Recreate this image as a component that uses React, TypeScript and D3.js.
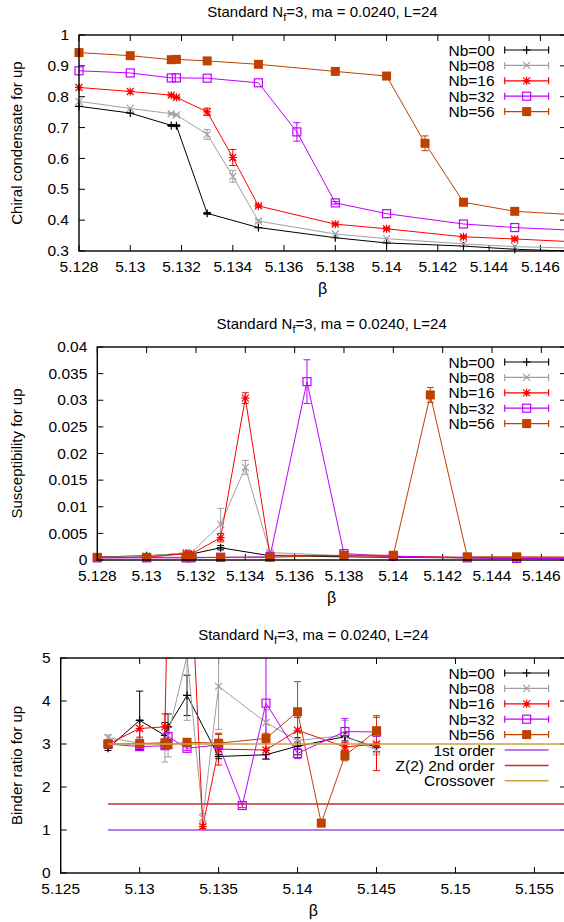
import React, { useEffect } from 'react';
import * as d3 from 'd3';

// ---- series shared by the three panels ----
const seriesLabels = ['Nb=00', 'Nb=08', 'Nb=16', 'Nb=32', 'Nb=56'];
const seriesColors = ['#000000', '#a0a0a0', '#ff0000', '#c000ff', '#c04000'];
const seriesMarkers = ['plus', 'cross', 'star', 'square', 'filled'];

// ---- chiral condensate ----
const condBeta = [
  [5.128, 5.13, 5.1316, 5.1318, 5.133, 5.135, 5.138, 5.14, 5.143, 5.145, 5.15],
  [5.128, 5.13, 5.1316, 5.1318, 5.133, 5.134, 5.135, 5.138, 5.14, 5.143, 5.145, 5.15],
  [5.128, 5.13, 5.1316, 5.1318, 5.133, 5.134, 5.135, 5.138, 5.14, 5.143, 5.145, 5.15],
  [5.128, 5.13, 5.1316, 5.1318, 5.133, 5.135, 5.1365, 5.138, 5.14, 5.143, 5.145, 5.15],
  [5.128, 5.13, 5.1316, 5.1318, 5.133, 5.135, 5.138, 5.14, 5.1415, 5.143, 5.145, 5.15],
];
const condValue = [
  [0.769, 0.747, 0.707, 0.706, 0.422, 0.376, 0.343, 0.326, 0.316, 0.3055, 0.292],
  [0.785, 0.762, 0.745, 0.741, 0.678, 0.542, 0.397, 0.355, 0.34, 0.323, 0.314, 0.304],
  [0.83, 0.817, 0.805, 0.798, 0.751, 0.603, 0.446, 0.387, 0.372, 0.346, 0.339, 0.319],
  [0.884, 0.877, 0.861, 0.861, 0.86, 0.845, 0.686, 0.456, 0.421, 0.3875, 0.376, 0.357],
  [0.943, 0.933, 0.92, 0.921, 0.916, 0.905, 0.882, 0.867, 0.649, 0.458, 0.4286, 0.405],
];
const condError = [
  [0, 0, 0.003, 0.003, 0.003, 0, 0, 0, 0, 0, 0],
  [0, 0, 0.003, 0.003, 0.016, 0.019, 0.004, 0, 0, 0, 0, 0],
  [0, 0, 0.003, 0.004, 0.012, 0.026, 0.004, 0.004, 0.004, 0.004, 0.004, 0],
  [0, 0, 0, 0, 0, 0, 0.03, 0.004, 0, 0, 0, 0],
  [0, 0, 0, 0, 0, 0, 0, 0, 0.024, 0, 0, 0],
];
const condXTicks = [5.128, 5.13, 5.132, 5.134, 5.136, 5.138, 5.14, 5.142, 5.144, 5.146];
const condYTicks = [0.3, 0.4, 0.5, 0.6, 0.7, 0.8, 0.9, 1];

// ---- susceptibility ----
const suscBeta = condBeta;
const suscValue = [
  [0.00056, 0.0008, 0.0012, 0.0011, 0.0023, 0.0008, 0.0006, 0.0005, 0.0004, 0.0003, 0.0003],
  [0.0005, 0.0007, 0.0014, 0.0013, 0.0067, 0.0174, 0.0014, 0.0008, 0.0006, 0.0005, 0.0004, 0.0004],
  [0.0004, 0.0005, 0.0012, 0.0011, 0.0042, 0.0304, 0.0009, 0.0008, 0.0007, 0.0005, 0.0004, 0.0004],
  [0.0004, 0.0004, 0.0004, 0.0004, 0.0005, 0.0006, 0.0335, 0.0012, 0.0007, 0.0004, 0.0003, 0.0003],
  [0.0005, 0.0005, 0.0005, 0.0005, 0.0005, 0.0005, 0.0009, 0.0009, 0.031, 0.0006, 0.0006, 0.0005],
];
const suscError = [
  [0, 0, 0.0001, 0.0001, 0.0004, 0.0001, 0, 0, 0, 0, 0],
  [0, 0, 0.0002, 0.0002, 0.003, 0.0013, 0.0003, 0.0001, 0, 0, 0, 0],
  [0, 0, 0.0001, 0.0001, 0.0008, 0.001, 0.0002, 0.0001, 0, 0, 0, 0],
  [0, 0, 0, 0, 0, 0, 0.0041, 0.0002, 0, 0, 0, 0],
  [0, 0, 0, 0, 0, 0, 0, 0.0001, 0.0014, 0, 0, 0],
];
const suscYTicks = [0, 0.005, 0.01, 0.015, 0.02, 0.025, 0.03, 0.035, 0.04];

// ---- Binder ratio ----
const binderBeta = [
  [5.128, 5.13, 5.1316, 5.1318, 5.133, 5.135, 5.138, 5.14, 5.143, 5.145],
  [5.128, 5.13, 5.1316, 5.1318, 5.133, 5.134, 5.135, 5.138, 5.14, 5.143, 5.145],
  [5.128, 5.13, 5.1316, 5.1318, 5.133, 5.134, 5.135, 5.138, 5.14, 5.143, 5.145],
  [5.128, 5.13, 5.1316, 5.1318, 5.133, 5.135, 5.1365, 5.138, 5.14, 5.143, 5.145],
  [5.128, 5.13, 5.1316, 5.1318, 5.133, 5.135, 5.138, 5.14, 5.1415, 5.143, 5.145],
];
const binderValue = [
  [2.9, 3.55, 3.2, 3.4, 4.13, 2.71, 2.75, 2.95, 3.17, 2.92],
  [3.15, 3.02, 3.0, 3.2, 5.05, 1.28, 4.34, 3.5, 3.08, 3.2, 2.85],
  [3.0, 3.36, 3.4, 7.0, 8.9, 1.08, 2.88, 2.86, 3.32, 2.93, 3.0],
  [3.0, 2.94, 2.96, 3.17, 2.9, 2.98, 1.57, 3.95, 2.78, 3.29, 3.28],
  [3.0, 3.01, 3.03, 2.98, 3.04, 3.02, 3.13, 3.75, 1.16, 2.73, 3.31],
];
const binderError = [
  [0.05, 0.68, 0.3, 0.3, 0.47, 0.05, 0.1, 0.2, 0.1, 0.1],
  [0.06, 0.1, 0.42, 0.5, 1.5, 0.1, 1.0, 0.3, 0.2, 0.35, 0.1],
  [0.05, 0.2, 0.3, 2, 3, 0.05, 0.37, 0.22, 0.3, 0.1, 0.62],
  [0.03, 0.05, 0.05, 0.1, 0.05, 0.05, 0.05, 1.3, 0.12, 0.3, 0.1],
  [0.03, 0.03, 0.03, 0.03, 0.03, 0.2, 0.12, 0.7, 0.03, 0.12, 0.35],
];
const binderXTicks = [5.125, 5.13, 5.135, 5.14, 5.145, 5.15, 5.155];
const binderYTicks = [0, 1, 2, 3, 4, 5];
const refLabels = ['1st order', 'Z(2) 2nd order', 'Crossover'];
const refValues = [1, 1.604, 3];
const refColors = ['#a34ee0', '#c03232', '#cca043'];

const FONT = '"Liberation Sans", Arial, sans-serif';
const fmt = (d: number) => String(+d.toFixed(4));

function Marker({ kind, x, y, color }: { kind: string; x: number; y: number; color: string }) {
  const h = 4;
  const c = 3.5;
  const plus = `M${x - h},${y}H${x + h}M${x},${y - h}V${y + h}`;
  const cross = `M${x - c},${y - c}L${x + c},${y + c}M${x - c},${y + c}L${x + c},${y - c}`;
  if (kind === 'plus') return <path d={plus} stroke={color} strokeWidth={1.2} />;
  if (kind === 'cross') return <path d={cross} stroke={color} strokeWidth={1.2} />;
  if (kind === 'star') return <path d={plus + cross} stroke={color} strokeWidth={1.2} />;
  if (kind === 'square')
    return <rect x={x - 4} y={y - 4} width={8} height={8} fill="none" stroke={color} strokeWidth={1.2} />;
  return <rect x={x - 4.5} y={y - 4.5} width={9} height={9} fill={color} />;
}

type PanelProps = {
  id: string;
  top: number;
  bottom: number;
  left: number;
  right: number;
  xDomain: [number, number];
  yDomain: [number, number];
  xTicks: number[];
  yTicks: number[];
  yLabel: string;
  betas: number[][];
  values: number[][];
  errors: number[][];
  refs?: boolean;
};

function Panel(p: PanelProps) {
  const x = d3.scaleLinear().domain(p.xDomain).range([p.left, p.right]);
  const y = d3.scaleLinear().domain(p.yDomain).range([p.bottom, p.top]);
  const line = d3
    .line<[number, number]>()
    .x((d) => x(d[0]))
    .y((d) => y(d[1]));
  const inside = (b: number, v: number) =>
    b >= p.xDomain[0] && b <= p.xDomain[1] && v >= p.yDomain[0] && v <= p.yDomain[1];
  const midX = (p.left + p.right) / 2;
  const midY = (p.top + p.bottom) / 2;
  const legX = 494.6;
  const lx0 = 504.7;
  const lx1 = 548.6;
  const legY = (i: number) => p.top + 15 + i * 15.4;
  const tk = 6;

  return (
    <g fontFamily={FONT}>
      <defs>
        <clipPath id={`clip-${p.id}`}>
          <rect x={p.left - 10} y={p.top} width={p.right - p.left + 10} height={p.bottom - p.top} />
        </clipPath>
      </defs>
      <text x={midX} y={p.top - 18} textAnchor="middle" fontSize={15}>
        Standard N<tspan fontSize={11} dy={4}>f</tspan>
        <tspan dy={-4}>=3, ma = 0.0240, L=24</tspan>
      </text>

      {/* ticks and labels */}
      {p.xTicks.map((t) => (
        <g key={`x${t}`}>
          <line x1={x(t)} x2={x(t)} y1={p.bottom} y2={p.bottom - tk} stroke="#000" />
          <line x1={x(t)} x2={x(t)} y1={p.top} y2={p.top + tk} stroke="#000" />
          <text x={x(t)} y={p.bottom + 21} textAnchor="middle" fontSize={15.5}>
            {fmt(t)}
          </text>
        </g>
      ))}
      {p.yTicks.map((t) => (
        <g key={`y${t}`}>
          <line x1={p.left} x2={p.left + tk} y1={y(t)} y2={y(t)} stroke="#000" />
          <line x1={p.right} x2={p.right - tk} y1={y(t)} y2={y(t)} stroke="#000" />
          <text x={p.left - 10} y={y(t) + 5.2} textAnchor="end" fontSize={15.5}>
            {fmt(t)}
          </text>
        </g>
      ))}
      <text x={midX} y={p.bottom + 43} textAnchor="middle" fontSize={16}>
        β
      </text>
      <text transform={`translate(21.5,${midY}) rotate(-90)`} textAnchor="middle" fontSize={15}>
        {p.yLabel}
      </text>

      {/* data */}
      <g clipPath={`url(#clip-${p.id})`}>
        {p.betas.map((bs, s) => (
          <g key={`s${s}`}>
            <path
              d={line(bs.map((b, i) => [b, p.values[s][i]]) as [number, number][]) || ''}
              fill="none"
              stroke={seriesColors[s]}
              strokeWidth={1}
            />
            {bs.map((b, i) => {
              const e = p.errors[s][i];
              if (!e) return null;
              const v = p.values[s][i];
              const yt = y(v + e);
              const yb = y(v - e);
              const cx = x(b);
              return (
                <path
                  key={`e${i}`}
                  d={`M${cx},${yt}V${yb}M${cx - 3.5},${yt}H${cx + 3.5}M${cx - 3.5},${yb}H${cx + 3.5}`}
                  stroke={seriesColors[s]}
                  strokeWidth={1}
                  fill="none"
                />
              );
            })}
          </g>
        ))}
      </g>
      {p.betas.map((bs, s) => (
        <g key={`m${s}`}>
          {bs.map((b, i) =>
            inside(b, p.values[s][i]) ? (
              <Marker key={i} kind={seriesMarkers[s]} x={x(b)} y={y(p.values[s][i])} color={seriesColors[s]} />
            ) : null
          )}
        </g>
      ))}
      {p.refs &&
        refValues.map((v, i) => (
          <line
            key={`r${i}`}
            x1={x(5.128)}
            x2={p.right}
            y1={y(v)}
            y2={y(v)}
            stroke={refColors[i]}
            strokeWidth={1.5}
          />
        ))}

      {/* legend */}
      {seriesLabels.map((lab, i) => {
        const ly = legY(i);
        return (
          <g key={`l${i}`}>
            <text x={legX} y={ly + 5.5} textAnchor="end" fontSize={15.5}>
              {lab}
            </text>
            <path
              d={`M${lx0},${ly}H${lx1}M${lx0},${ly - 3.5}V${ly + 3.5}M${lx1},${ly - 3.5}V${ly + 3.5}`}
              stroke={seriesColors[i]}
              strokeWidth={1.2}
              fill="none"
            />
            <Marker kind={seriesMarkers[i]} x={(lx0 + lx1) / 2} y={ly} color={seriesColors[i]} />
          </g>
        );
      })}
      {p.refs &&
        refLabels.map((lab, i) => {
          const ly = legY(i + 5);
          return (
            <g key={`rl${i}`}>
              <text x={legX} y={ly + 5.5} textAnchor="end" fontSize={15.5}>
                {lab}
              </text>
              <line x1={lx0} x2={lx1} y1={ly} y2={ly} stroke={refColors[i]} strokeWidth={1.5} />
            </g>
          );
        })}

      {/* frame */}
      <rect
        x={p.left}
        y={p.top}
        width={p.right - p.left}
        height={p.bottom - p.top}
        fill="none"
        stroke="#000"
        strokeWidth={1.4}
      />
    </g>
  );
}

export default function App() {
  useEffect(() => {
    document.body.style.margin = '0';
  }, []);
  return (
    <svg width={564} height={922} style={{ display: 'block', background: '#fff' }}>
      <rect width={564} height={922} fill="#fff" />
      <Panel
        id="cond"
        top={35}
        bottom={251}
        left={79}
        right={566}
        xDomain={[5.128, 5.147]}
        yDomain={[0.3, 1]}
        xTicks={condXTicks}
        yTicks={condYTicks}
        yLabel="Chiral condensate for up"
        betas={condBeta}
        values={condValue}
        errors={condError}
      />
      <Panel
        id="susc"
        top={347}
        bottom={560}
        left={97.3}
        right={566}
        xDomain={[5.128, 5.147]}
        yDomain={[0, 0.04]}
        xTicks={condXTicks}
        yTicks={suscYTicks}
        yLabel="Susceptibility for up"
        betas={suscBeta}
        values={suscValue}
        errors={suscError}
      />
      <Panel
        id="binder"
        top={658}
        bottom={873}
        left={60.7}
        right={566}
        xDomain={[5.125, 5.157]}
        yDomain={[0, 5]}
        xTicks={binderXTicks}
        yTicks={binderYTicks}
        yLabel="Binder ratio for up"
        betas={binderBeta}
        values={binderValue}
        errors={binderError}
        refs
      />
    </svg>
  );
}
